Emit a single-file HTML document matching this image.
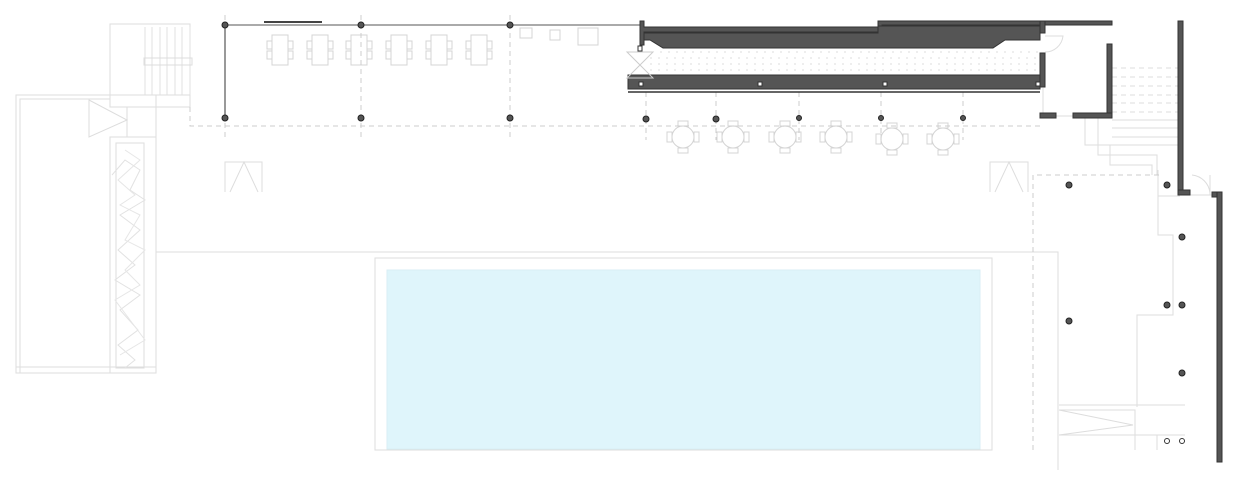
<!DOCTYPE html>
<html><head><meta charset="utf-8"><style>html,body{margin:0;padding:0;background:#fff}svg{display:block}</style></head><body>
<svg width="1240" height="486" viewBox="0 0 1240 486" xmlns="http://www.w3.org/2000/svg">
<g fill="none" stroke="#ddd" stroke-width="1">
<rect x="16" y="95" width="140" height="278"/>
<polyline points="20,373 20,99 110,99"/>
<line x1="16" y1="367" x2="156" y2="367"/>
<rect x="110" y="137" width="46" height="236"/>
<rect x="116" y="143" width="28" height="225"/>
<polyline points="112,175 125,160 140,170 130,190 145,200 120,215 140,230 118,250 135,265 115,280 140,295 120,310 138,330 118,345 135,360 125,368" stroke="#e2e2e2"/>
<polyline points="125,150 140,160 118,180 135,195 120,205 140,215 125,240 145,250 125,270 140,285 115,300 130,320 145,340 120,355" stroke="#e6e6e6"/>
<polygon points="89,100 127,120 89,137"/>
<line x1="127" y1="107" x2="127" y2="137"/>
<rect x="110" y="24" width="80" height="83"/>
<line x1="110" y1="95" x2="190" y2="95"/>
<g stroke="#e0e0e0"><line x1="145" y1="27" x2="145" y2="95"/><line x1="152" y1="27" x2="152" y2="95"/><line x1="160" y1="27" x2="160" y2="95"/><line x1="167" y1="27" x2="167" y2="95"/><line x1="175" y1="27" x2="175" y2="95"/><line x1="182" y1="27" x2="182" y2="95"/><line x1="190" y1="27" x2="190" y2="95"/></g>
<rect x="144" y="58" width="48" height="7"/>
<polyline points="156,252 1058,252 1058,470"/>
<rect x="375" y="258" width="617" height="192"/>
<polyline points="225,192 225,162 262,162 262,192"/><polyline points="230,192 244,162 258,192"/>
<polyline points="990,192 990,162 1028,162 1028,192"/><polyline points="995,192 1009,162 1023,192"/>
<g stroke="#d4d4d4">
<rect x="272" y="35" width="16" height="30"/><rect x="267" y="41" width="5" height="8"/><rect x="267" y="51" width="5" height="8"/><rect x="288" y="41" width="5" height="8"/><rect x="288" y="51" width="5" height="8"/>
<rect x="312" y="35" width="16" height="30"/><rect x="307" y="41" width="5" height="8"/><rect x="307" y="51" width="5" height="8"/><rect x="328" y="41" width="5" height="8"/><rect x="328" y="51" width="5" height="8"/>
<rect x="351" y="35" width="16" height="30"/><rect x="346" y="41" width="5" height="8"/><rect x="346" y="51" width="5" height="8"/><rect x="367" y="41" width="5" height="8"/><rect x="367" y="51" width="5" height="8"/>
<rect x="391" y="35" width="16" height="30"/><rect x="386" y="41" width="5" height="8"/><rect x="386" y="51" width="5" height="8"/><rect x="407" y="41" width="5" height="8"/><rect x="407" y="51" width="5" height="8"/>
<rect x="431" y="35" width="16" height="30"/><rect x="426" y="41" width="5" height="8"/><rect x="426" y="51" width="5" height="8"/><rect x="447" y="41" width="5" height="8"/><rect x="447" y="51" width="5" height="8"/>
<rect x="471" y="35" width="16" height="30"/><rect x="466" y="41" width="5" height="8"/><rect x="466" y="51" width="5" height="8"/><rect x="487" y="41" width="5" height="8"/><rect x="487" y="51" width="5" height="8"/>
<rect x="520" y="28" width="12" height="10"/><rect x="550" y="30" width="10" height="10"/><rect x="578" y="28" width="20" height="17"/>
</g>
<g stroke="#d4d4d4">
<g transform="translate(683,137)"><circle r="11"/><rect x="-5" y="-16" width="10" height="5"/><rect x="-5" y="11" width="10" height="5"/><rect x="-16" y="-5" width="5" height="10"/><rect x="11" y="-5" width="5" height="10"/></g>
<g transform="translate(733,137)"><circle r="11"/><rect x="-5" y="-16" width="10" height="5"/><rect x="-5" y="11" width="10" height="5"/><rect x="-16" y="-5" width="5" height="10"/><rect x="11" y="-5" width="5" height="10"/></g>
<g transform="translate(785,137)"><circle r="11"/><rect x="-5" y="-16" width="10" height="5"/><rect x="-5" y="11" width="10" height="5"/><rect x="-16" y="-5" width="5" height="10"/><rect x="11" y="-5" width="5" height="10"/></g>
<g transform="translate(836,137)"><circle r="11"/><rect x="-5" y="-16" width="10" height="5"/><rect x="-5" y="11" width="10" height="5"/><rect x="-16" y="-5" width="5" height="10"/><rect x="11" y="-5" width="5" height="10"/></g>
<g transform="translate(892,139)"><circle r="11"/><rect x="-5" y="-16" width="10" height="5"/><rect x="-5" y="11" width="10" height="5"/><rect x="-16" y="-5" width="5" height="10"/><rect x="11" y="-5" width="5" height="10"/></g>
<g transform="translate(943,139)"><circle r="11"/><rect x="-5" y="-16" width="10" height="5"/><rect x="-5" y="11" width="10" height="5"/><rect x="-16" y="-5" width="5" height="10"/><rect x="11" y="-5" width="5" height="10"/></g>
</g>
<polyline points="1158,170 1158,235 1173,235 1173,315 1137,315 1137,407"/>
<line x1="1158" y1="196" x2="1180" y2="196"/>
<line x1="1059" y1="405" x2="1185" y2="405"/>
<polyline points="1059,410 1135,410 1135,450"/>
<polyline points="1059,410 1133,425 1059,435"/>
<line x1="1059" y1="435" x2="1185" y2="435"/>
<line x1="1157" y1="435" x2="1157" y2="450"/>
<polyline points="1085,118 1085,145 1112,145"/>
<polyline points="1098,118 1098,155 1157,155 1157,175"/>
<polyline points="1110,145 1110,165 1152,165 1152,175"/>
<line x1="1112" y1="120" x2="1178" y2="120"/><line x1="1112" y1="128" x2="1178" y2="128"/><line x1="1112" y1="137" x2="1178" y2="137"/><line x1="1107" y1="145" x2="1178" y2="145"/>
<line x1="1185" y1="195" x2="1212" y2="195"/>
<path d="M1192,175 A20,20 0 0 1 1210,193 M1210,175 L1210,195"/>
<path d="M1045,36 L1063,36 A18,18 0 0 1 1045,52"/>
<line x1="1043" y1="88" x2="1043" y2="113"/>
<line x1="1056" y1="116" x2="1073" y2="116"/>
</g>
<g stroke="#ccc" stroke-dasharray="5,4" fill="none">
<polyline points="190,107 190,126 1040,126"/>
<line x1="225" y1="15" x2="225" y2="140"/><line x1="361" y1="15" x2="361" y2="140"/><line x1="510" y1="15" x2="510" y2="140"/>
<line x1="646" y1="92" x2="646" y2="140"/><line x1="716" y1="92" x2="716" y2="140"/><line x1="799" y1="92" x2="799" y2="140"/><line x1="881" y1="92" x2="881" y2="140"/><line x1="963" y1="92" x2="963" y2="140"/>
<polyline points="1033,450 1033,175 1160,175"/>
<g stroke="#ddd"><line x1="1112" y1="68" x2="1178" y2="68"/><line x1="1112" y1="77" x2="1178" y2="77"/><line x1="1112" y1="86" x2="1178" y2="86"/><line x1="1112" y1="95" x2="1178" y2="95"/><line x1="1112" y1="103" x2="1178" y2="103"/><line x1="1112" y1="112" x2="1178" y2="112"/></g>
<g stroke="#ddd" stroke-dasharray="2,6"><line x1="660" y1="52" x2="1038" y2="52"/><line x1="650" y1="58" x2="1038" y2="58"/><line x1="650" y1="64" x2="1038" y2="64"/><line x1="650" y1="70" x2="1038" y2="70"/></g>
</g>
<rect x="387" y="270" width="593" height="179" fill="#dff5fb" stroke="#d8eef4"/>
<line x1="225" y1="25" x2="640" y2="25" stroke="#aaa" stroke-width="2"/>
<line x1="264" y1="22" x2="322" y2="22" stroke="#444" stroke-width="2"/>
<line x1="225" y1="25" x2="225" y2="118" stroke="#999" stroke-width="2"/>
<g fill="#555" stroke="#333" stroke-width="1">
<polygon points="640,21 644,21 644,27 878,27 878,21 1112,21 1112,25 882,25 882,32 644,32 644,45 640,45"/>
<polygon points="644,33 878,33 878,26 1040,26 1040,40 1005,40 993,48 663,48 650,40 644,40"/>
<rect x="628" y="75" width="412" height="14"/>
<rect x="1040" y="21" width="5" height="12"/>
<rect x="1040" y="53" width="5" height="34"/>
<rect x="1107" y="44" width="5" height="74"/>
<rect x="1073" y="113" width="39" height="5"/>
<rect x="1040" y="113" width="16" height="5"/>
<rect x="1178" y="21" width="5" height="174"/>
<rect x="1178" y="190" width="12" height="5"/>
<rect x="1212" y="192" width="10" height="5"/>
<rect x="1217" y="192" width="5" height="270"/>
</g>
<line x1="628" y1="92" x2="1040" y2="92" stroke="#333" stroke-width="1.5"/>
<g fill="#fff" stroke="#333"><rect x="639" y="82" width="4" height="4"/><rect x="758" y="82" width="4" height="4"/><rect x="883" y="82" width="4" height="4"/><rect x="1036" y="82" width="4" height="4"/><rect x="638" y="46" width="4" height="5"/></g>
<path d="M627,52 L653,52 L640,65 L653,78 L627,78 L640,65 Z" fill="none" stroke="#ccc"/>
<g fill="#555" stroke="#222" stroke-width="1">
<circle cx="225" cy="25" r="3"/><circle cx="361" cy="25" r="3"/><circle cx="510" cy="25" r="3"/>
<circle cx="225" cy="118" r="3"/><circle cx="361" cy="118" r="3"/><circle cx="510" cy="118" r="3"/>
<circle cx="646" cy="119" r="3"/><circle cx="716" cy="119" r="3"/><circle cx="799" cy="118" r="2.5"/><circle cx="881" cy="118" r="2.5"/><circle cx="963" cy="118" r="2.5"/>
<circle cx="1069" cy="185" r="3"/><circle cx="1167" cy="185" r="3"/><circle cx="1182" cy="237" r="3"/>
<circle cx="1167" cy="305" r="3"/><circle cx="1182" cy="305" r="3"/><circle cx="1069" cy="321" r="3"/><circle cx="1182" cy="373" r="3"/>
</g>
<g fill="#fff" stroke="#333"><circle cx="1167" cy="441" r="2.5"/><circle cx="1182" cy="441" r="2.5"/></g>
</svg>
</body></html>
